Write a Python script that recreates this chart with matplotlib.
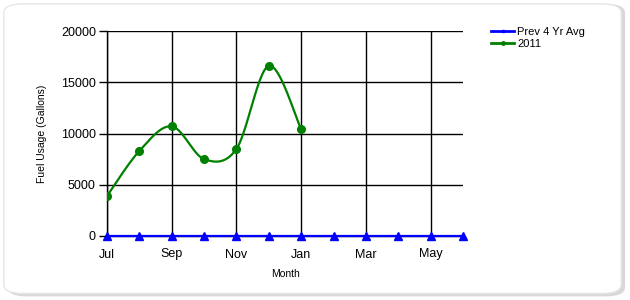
import numpy as np
import matplotlib.pyplot as plt
from matplotlib.patches import FancyBboxPatch

months = ['Jul', 'Aug', 'Sep', 'Oct', 'Nov', 'Dec', 'Jan', 'Feb', 'Mar', 'Apr', 'May', 'Jun']
prev_avg = [0, 0, 0, 0, 0, 0, 0, 0, 0, 0, 0, 0]
usage_2011 = [3900, 8300, 10700, 7500, 8500, 16600, 10400]

plt.rcParams['font.family'] = ['Liberation Sans', 'DejaVu Sans']


def cardinal(xs, ys, tension=0.5, n=30):
    # catmull-rom style spline through the points
    xs = np.asarray(xs, float)
    ys = np.asarray(ys, float)
    px = np.concatenate([[xs[0]], xs, [xs[-1]]])
    py = np.concatenate([[ys[0]], ys, [ys[-1]]])
    ox, oy = [], []
    for i in range(1, len(px) - 2):
        mx0 = tension * (px[i + 1] - px[i - 1])
        my0 = tension * (py[i + 1] - py[i - 1])
        mx1 = tension * (px[i + 2] - px[i])
        my1 = tension * (py[i + 2] - py[i])
        t = np.linspace(0, 1, n)
        h00 = 2 * t**3 - 3 * t**2 + 1
        h10 = t**3 - 2 * t**2 + t
        h01 = -2 * t**3 + 3 * t**2
        h11 = t**3 - t**2
        ox.append(h00 * px[i] + h10 * mx0 + h01 * px[i + 1] + h11 * mx1)
        oy.append(h00 * py[i] + h10 * my0 + h01 * py[i + 1] + h11 * my1)
    return np.concatenate(ox), np.concatenate(oy)


fig = plt.figure(figsize=(6.3, 3.0), dpi=100)
fig.patch.set_facecolor('white')

# card with shadow
shadow = FancyBboxPatch((0.012, 0.012), 0.98, 0.975, boxstyle='round,pad=0,rounding_size=0.03',
                        transform=fig.transFigure, facecolor='#d8d8d8', edgecolor='none', zorder=-2)
card = FancyBboxPatch((0.006, 0.022), 0.98, 0.965, boxstyle='round,pad=0,rounding_size=0.03',
                      transform=fig.transFigure, facecolor='white', edgecolor='#e6e6e6', lw=1, zorder=-1)
fig.patches.extend([shadow, card])

ax = fig.add_axes([107 / 630, 1 - 236 / 300, (463 - 107) / 630, (236 - 31) / 300])
ax.set_facecolor('none')
x = np.arange(len(months))

sx, sy = cardinal(x[:len(usage_2011)], usage_2011)
ax.plot(sx, sy, color='#008000', lw=1.6, zorder=3)
ax.plot(x[:len(usage_2011)], usage_2011, 'o', color='#008000', markersize=5.5, zorder=4)
ax.plot(x, prev_avg, color='#0000ff', lw=1.6, marker='^', markersize=5.5, clip_on=False, zorder=5)

# legend proxies
l1, = ax.plot([], [], color='#0000ff', lw=2, marker='s', markersize=2)
l2, = ax.plot([], [], color='#008000', lw=2, marker='o', markersize=2.5)
fig.legend([l1, l2], ['Prev 4 Yr Avg', '2011'], loc='upper left', bbox_to_anchor=(0.773, 0.925),
           frameon=False, fontsize=8, handlelength=2.0, handletextpad=0.3, labelspacing=0.15,
           borderaxespad=0)

ax.set_xlim(0, 11)
ax.set_ylim(0, 20000)
ax.set_xticks(x[::2])
ax.set_xticklabels(months[::2], fontsize=9)
ax.set_yticks([0, 5000, 10000, 15000, 20000])
ax.set_yticklabels(['0', '5000', '10000', '15000', '20000'], fontsize=9)
ax.grid(True, color='black', lw=1)
ax.set_axisbelow(True)
for s in ['top', 'right']:
    ax.spines[s].set_visible(False)
ax.spines['left'].set_linewidth(1)
ax.spines['bottom'].set_linewidth(1)
ax.tick_params(axis='y', length=6, width=1, pad=2)
ax.tick_params(axis='x', length=0, pad=9)
ax.set_xlabel('Month', fontsize=7.5, labelpad=6)
ax.set_ylabel('Fuel Usage (Gallons)', fontsize=7.5, labelpad=10)

plt.savefig('out.png', dpi=100)
